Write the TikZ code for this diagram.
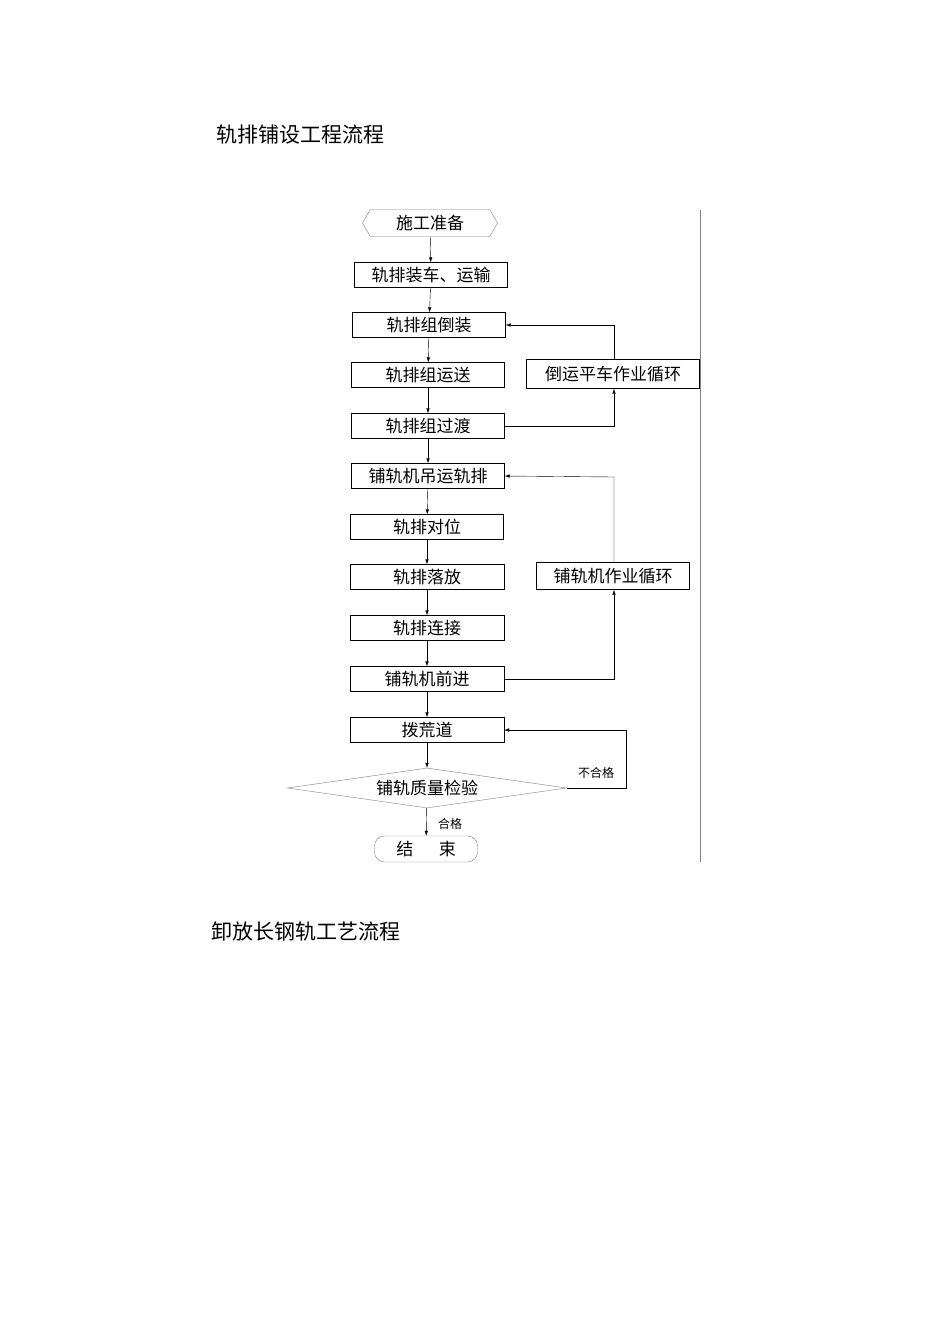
\documentclass[tikz,border=0pt]{standalone}
\usepackage{fontspec}
\setmainfont{Liberation Serif}
\newfontfamily\cjk{Noto Sans CJK SC}
\usetikzlibrary{shapes.geometric,shapes.symbols,arrows.meta}
\begin{document}
\begin{tikzpicture}[x=1pt,y=-1pt,
  bx/.style={draw,thin,minimum height=25pt,inner sep=0pt,font=\cjk\fontsize{17}{17}\selectfont},
  ar/.style={-{Latex[length=5pt,width=3.5pt]},thin},
  sm/.style={font=\cjk\fontsize{12}{12}\selectfont}]
\useasboundingbox (0,0) rectangle (950,1344);
\node[font=\cjk\fontsize{21}{21}\selectfont] (t1) at (300,135) {轨排铺设工程流程};
\node[font=\cjk\fontsize{21}{21}\selectfont] (t2) at (306,932) {卸放长钢轨工艺流程};
\node[bx,draw=gray,signal,signal to=west and east,signal pointer angle=120,minimum width=135pt,minimum height=27pt] (s) at (430,223) {施工准备};
\node[bx,minimum width=153pt] (a) at (431,275) {轨排装车、运输};
\node[bx,minimum width=153pt] (b) at (429,325) {轨排组倒装};
\node[bx,minimum width=153pt] (c) at (428,375) {轨排组运送};
\node[bx,minimum width=173pt,minimum height=29pt] (r1) at (613,374) {倒运平车作业循环};
\node[bx,minimum width=153pt] (d) at (428,426) {轨排组过渡};
\node[bx,minimum width=153pt] (e) at (428,476) {铺轨机吊运轨排};
\node[bx,minimum width=153pt] (f) at (427,527) {轨排对位};
\node[bx,minimum width=154pt] (g) at (427,577) {轨排落放};
\node[bx,minimum width=153pt,minimum height=27pt] (r2) at (613,576) {铺轨机作业循环};
\node[bx,minimum width=154pt] (h) at (427,628) {轨排连接};
\node[bx,minimum width=154pt] (i) at (427,679) {铺轨机前进};
\node[bx,minimum width=154pt] (j) at (427,730) {拨荒道};
\node[bx,draw=gray,diamond,aspect=7,minimum width=279pt,minimum height=40pt] (k) at (427,788) {铺轨质量检验};
\node[bx,draw=gray,rounded corners=10pt,minimum width=103pt,minimum height=26pt] (z) at (426,849) {结\hspace{1.5em}束};
\draw[gray] (700,210) -- (700,862);
\foreach \p/\q in {s/a,a/b,b/c,c/d,d/e,e/f,f/g,g/h,h/i,i/j,j/k,k/z} \draw[ar] (\p) -- (\q);
\draw[ar] (d.east) -- (614,426) -- (r1.south -| 614,0);
\draw[ar] (r1.north -| 614,0) -- (614,325) -- (b.east);
\draw[ar] (i.east) -- (614,679) -- (r2.south -| 614,0);
\draw[ar] (r2.north -| 614,0) -- (614,477) -- (e.east);
\draw[ar] (k.east) -- (626,788) -- (626,730) -- (j.east);
\node[sm] (l1) at (596,773) {不合格};
\node[sm] (l2) at (450,824) {合格};
\end{tikzpicture}
\end{document}
